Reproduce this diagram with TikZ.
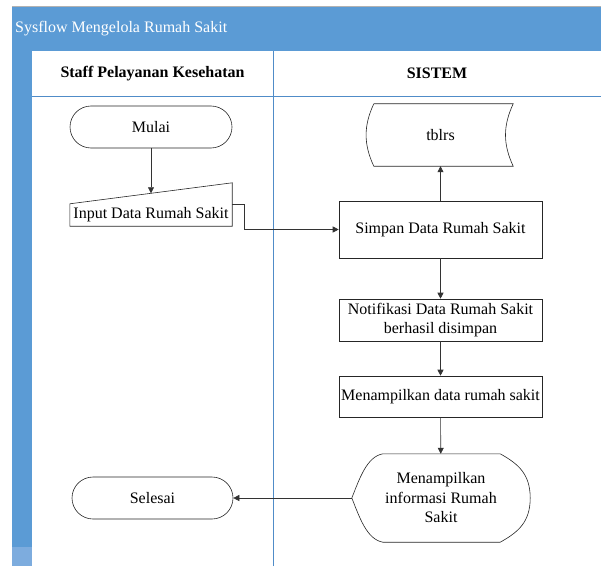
\documentclass[tikz,border=0pt]{standalone}
\usepackage{fontspec}
\setmainfont{Liberation Serif}
\usetikzlibrary{positioning, shapes, arrows.meta, calc}

\begin{document}
\begin{tikzpicture}[x=1pt, y=1pt, >={Triangle[length=6pt,width=6pt]},
    font=\fontsize{16}{19.5}\selectfont,
    terminal/.style={draw=black!85, line width=0.6pt, rounded corners=21pt, minimum width=162pt, minimum height=42pt, inner sep=0pt},
    prosesbox/.style={draw=black!85, line width=0.6pt, minimum width=203pt, inner sep=2pt, align=center},
    plain/.style={inner sep=0pt, align=center},
    lanehead/.style={plain, font=\fontsize{16}{19.5}\selectfont\bfseries},
    outline/.style={draw=black!85, line width=0.6pt},
    flow/.style={->, black!80, line width=0.6pt}]
    \definecolor{swim}{RGB}{91, 155, 213} % Blue
    \definecolor{swimlight}{RGB}{125, 172, 222} % Light blue
    \definecolor{laneline}{RGB}{80, 140, 200} % Lane border

    \useasboundingbox (0,0) rectangle (601,566);

    % Pool and lanes
    \fill[swim] (12,515) rectangle (601,559);
    \draw[gray!60] (12,559.5) -- (601,559.5);
    \fill[swim] (12,19) rectangle (32,515);
    \fill[swimlight] (12,0) rectangle (32,19);
    \draw[laneline, line width=0.6pt] (32,470) -- (601,470);
    \draw[laneline, line width=0.6pt] (273,0) -- (273,515);

    % Headers
    \node[plain, text=white, anchor=west] (judul) at (15,537) {Sysflow Mengelola Rumah Sakit};
    \node[lanehead] (staff) at (152.5,492.5) {Staff Pelayanan Kesehatan};
    \node[lanehead] (sistem) at (437,492.5) {SISTEM};

    % Nodes
    \node[terminal] (mulai) at (151,439) {Mulai};
    \node[plain, minimum width=162pt, minimum height=22pt] (input) at (151,351) {Input Data Rumah Sakit};
    \draw[outline] (input.south west) -- (input.south east) -- ([yshift=21pt]input.north east) -- (input.north west) -- cycle;

    \node[plain, minimum width=145pt, minimum height=62pt] (tblrs) at (440.5,431) {tblrs};
    \draw[outline] ([xshift=6pt]tblrs.north west) -- (tblrs.north east) to[bend right=25] (tblrs.south east)
        -- ([xshift=6pt]tblrs.south west) to[bend left=25] ([xshift=6pt]tblrs.north west);

    \node[prosesbox, minimum height=57pt] (simpan) at (440.5,336.5) {Simpan Data Rumah Sakit};
    \node[prosesbox, minimum height=42pt] (notif) at (440.5,246) {Notifikasi Data Rumah Sakit\\berhasil disimpan};
    \node[prosesbox, minimum height=41pt] (tampildata) at (440.5,169.5) {Menampilkan data rumah sakit};

    \node[plain, minimum width=178pt, minimum height=88pt] (tampilinfo) at (441,68) {Menampilkan\\informasi Rumah\\Sakit};
    \draw[outline] (tampilinfo.west) .. controls +(8,20) and +(-16,-3) .. ([xshift=31pt]tampilinfo.north west)
        -- ([xshift=-30pt]tampilinfo.north east) .. controls +(18,-10) and +(0,24) .. (tampilinfo.east)
        .. controls +(0,-24) and +(18,10) .. ([xshift=-30pt]tampilinfo.south east)
        -- ([xshift=31pt]tampilinfo.south west) .. controls +(-16,3) and +(8,-20) .. (tampilinfo.west);

    \node[terminal, minimum width=161pt] (selesai) at (152.5,68) {Selesai};

    % Connectors
    \coordinate (inputtop) at ($(input.north)+(0,10.5)$);
    \draw[flow] (mulai) -- (inputtop);
    \draw[flow] (input.north east) -- ++(12,0) |- (simpan.west);
    \draw[flow] (simpan) -- (tblrs);
    \draw[flow] (simpan) -- (notif);
    \draw[flow] (notif) -- (tampildata);
    \draw[flow] (tampildata) -- (tampilinfo);
    \draw[flow] (tampilinfo) -- (selesai);
\end{tikzpicture}
\end{document}
